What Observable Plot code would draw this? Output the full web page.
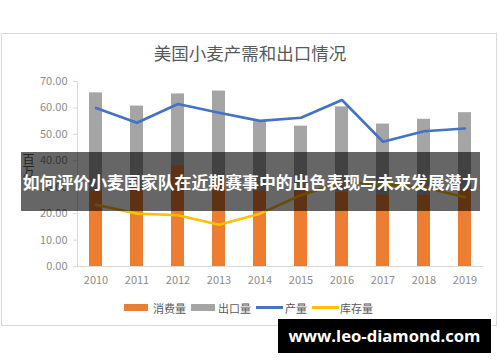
<!DOCTYPE html>
<html>
<head>
<meta charset="utf-8">
<script src="https://cdn.jsdelivr.net/npm/d3@7"></script>
<script src="https://cdn.jsdelivr.net/npm/@observablehq/plot@0.6"></script>
<style>
  html, body { margin: 0; padding: 0; background: #fff; }
  #wrap { position: relative; width: 500px; height: 362px; overflow: hidden; font-family: "Noto Sans CJK SC", "Noto Sans", sans-serif; }
  #chart { position: absolute; left: 0; top: 0; }
  .abs { position: absolute; white-space: nowrap; }
  #border { left: 1px; top: 33px; width: 494px; height: 291px; border: 1px solid #d9d9d9; }
  #title { left: 0; width: 500px; top: 40px; text-align: center; font-size: 17.5px; color: #595959; line-height: 26px; }
  #ylab { left: 22px; top: 153px; font-size: 12px; color: #595959; writing-mode: vertical-rl; letter-spacing: 0; line-height: 12px; }
  .leg { top: 300px; height: 16px; font-size: 11px; color: #595959; line-height: 16px; }
  .sw { position: absolute; }
  #banner { left: 21px; top: 152px; width: 459px; height: 59px; background: rgba(0,0,0,0.6); }
  #bannerText { left: 21px; top: 152px; width: 459px; height: 59px; color: #fff; font-weight: bold; font-size: 17.5px; line-height: 59px; text-align: center; }
  #wm { left: 278px; top: 319px; width: 213px; height: 34px; background: #000; }
  #wmText { left: 278px; top: 319px; width: 213px; height: 34px; color: #fff; font-weight: bold; font-size: 18.5px; line-height: 34px; text-align: center; font-family: "Open Sans", "DejaVu Sans", sans-serif; }
</style>
</head>
<body>
<div id="wrap">
  <div id="chart"></div>
</div>
<script>
const years = ["2010","2011","2012","2013","2014","2015","2016","2017","2018","2019"];
const consumption = [28.5, 30.0, 38.0, 31.5, 28.5, 28.5, 28.0, 27.0, 27.0, 29.0];
const exportsTop = [65.7, 60.7, 65.3, 66.4, 54.8, 53.1, 60.4, 53.9, 55.7, 58.2];
const production = [60.0, 54.4, 61.5, 58.2, 55.1, 56.3, 63.0, 47.2, 51.2, 52.2];
const stocks = [23.4, 20.0, 19.4, 15.8, 20.0, 27.0, 32.0, 31.0, 30.0, 26.2];
const yTicks = [0, 10, 20, 30, 40, 50, 60, 70];
const seriesNames = ["消费量", "出口量", "产量", "库存量"];
const seriesColors = ["#ED7D31", "#A5A5A5", "#4472C4", "#FFC000"];
const titleText = "美国小麦产需和出口情况";
const yLabel = "百万";
const bannerText = "如何评价小麦国家队在近期赛事中的出色表现与未来发展潜力";
const watermark = "www.leo-diamond.com";

const data = years.map((y, i) => ({
  year: y, consumption: consumption[i], exports: exportsTop[i],
  production: production[i], stocks: stocks[i]
}));

const chart = Plot.plot({
  width: 500, height: 362,
  marginLeft: 77, marginRight: 17, marginTop: 81, marginBottom: 96,
  style: { fontFamily: "Noto Sans CJK SC, Noto Sans, sans-serif", fontSize: "11px", color: "#8c8c8c", background: "transparent" },
  x: { domain: years, paddingInner: 0.68, paddingOuter: 0.29, label: null },
  y: { domain: [0, 70], label: null },
  marks: [
    Plot.barY(data, { x: "year", y: "exports", fill: seriesColors[1] }),
    Plot.barY(data, { x: "year", y: "consumption", fill: seriesColors[0] }),
    Plot.ruleY([0], { stroke: "#d9d9d9" }),
    Plot.line(data, { x: "year", y: "production", stroke: seriesColors[2], strokeWidth: 2.6, strokeLinejoin: "round" }),
    Plot.line(data, { x: "year", y: "stocks", stroke: seriesColors[3], strokeWidth: 2.6, strokeLinejoin: "round" }),
    Plot.axisX({ tickSize: 0, tickPadding: 10, fill: "#8c8c8c", label: null }),
    Plot.axisY({ ticks: yTicks, tickFormat: d3.format(".2f"), tickSize: 4, tickPadding: 6, stroke: "#d9d9d9", fill: "#8c8c8c", label: null }),
    Plot.frame({ anchor: "left", stroke: "#d9d9d9" })
  ]
});
document.getElementById("chart").appendChild(chart);

const wrap = document.getElementById("wrap");
function add(id, cls, text, style) {
  const d = document.createElement("div");
  if (id) d.id = id;
  d.className = "abs " + (cls || "");
  if (text != null) d.textContent = text;
  if (style) Object.assign(d.style, style);
  wrap.appendChild(d);
  return d;
}
add("border", "", null);
add("title", "", titleText);
add("ylab", "", yLabel);

// legend
const legItems = [
  { x: 124, type: "rect", textX: 153 },
  { x: 191, type: "rect", textX: 218 },
  { x: 256, type: "line", textX: 285 },
  { x: 312, type: "line", textX: 340 }
];
legItems.forEach((it, i) => {
  add(null, "sw", null, it.type === "rect"
    ? { left: it.x + "px", top: "304px", width: "24px", height: "7px", background: seriesColors[i] }
    : { left: it.x + "px", top: "306px", width: "27px", height: "3px", background: seriesColors[i] });
  add(null, "leg", seriesNames[i], { left: it.textX + "px" });
});

add("banner", "", null);
const bt = add("bannerText", "", null);
const bspan = document.createElement("span");
bspan.textContent = bannerText;
bt.appendChild(bspan);

add("wm", "", null);
const wt = add("wmText", "", null);
const wspan = document.createElement("span");
wspan.textContent = watermark;
wt.appendChild(wspan);

function fit(el, span, target) {
  const w = span.getBoundingClientRect().width;
  const fs = parseFloat(getComputedStyle(el).fontSize);
  if (w > 0) el.style.fontSize = (fs * target / w) + "px";
}
fit(bt, bspan, 456);
fit(wt, wspan, 192);
</script>
</body>
</html>
